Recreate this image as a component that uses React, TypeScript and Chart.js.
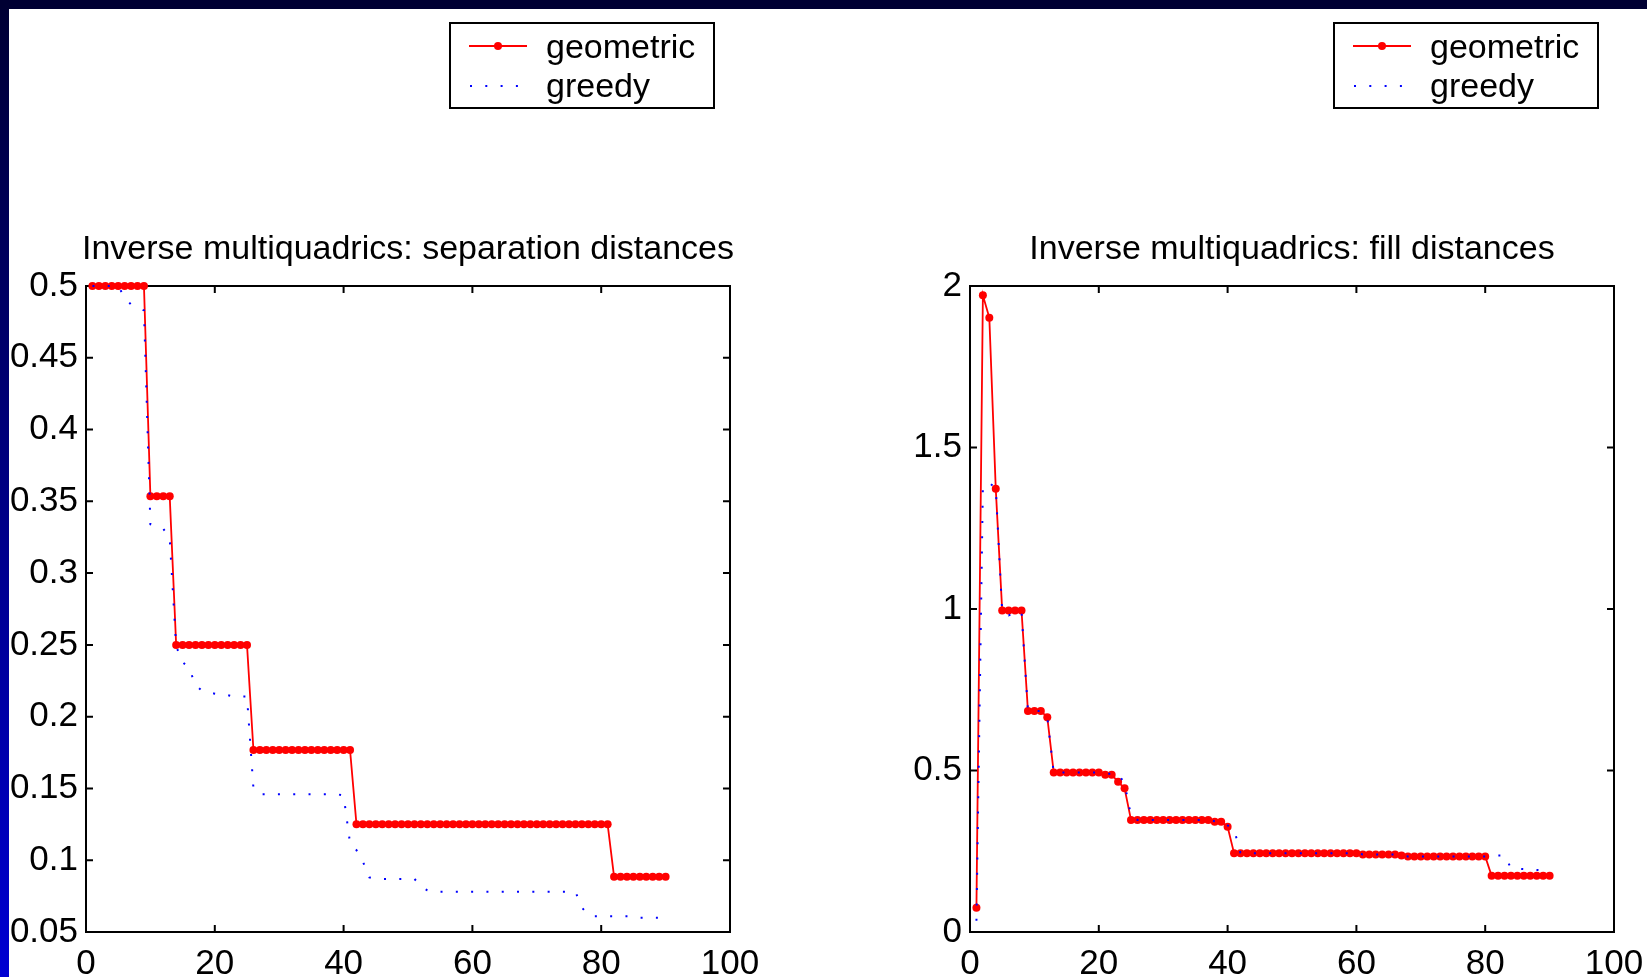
import React, { useEffect, useRef } from "react";
import { Chart, registerables } from "chart.js";

Chart.register(...registerables);

const FONT = '"Liberation Sans", Arial, Helvetica, sans-serif';
const FONT_SIZE = 34;
const TICK_FONT_SIZE = 35;

// Sample index (number of centres chosen) runs 1..90 along the x axis.
const xTickValues = [0, 20, 40, 60, 80, 100];
const xTickLabels = ["0", "20", "40", "60", "80", "100"];

// Separation distances
const sepTickValues = [0.05, 0.1, 0.15, 0.2, 0.25, 0.3, 0.35, 0.4, 0.45, 0.5];
const sepTickLabels = ["0.05", "0.1", "0.15", "0.2", "0.25", "0.3", "0.35", "0.4", "0.45", "0.5"];

const sepGeometric = [
  0.5, 0.5, 0.5, 0.5, 0.5, 0.5, 0.5, 0.5, 0.5, 0.3536,
  0.3536, 0.3536, 0.3536, 0.25, 0.25, 0.25, 0.25, 0.25, 0.25, 0.25,
  0.25, 0.25, 0.25, 0.25, 0.25, 0.1768, 0.1768, 0.1768, 0.1768, 0.1768,
  0.1768, 0.1768, 0.1768, 0.1768, 0.1768, 0.1768, 0.1768, 0.1768, 0.1768, 0.1768,
  0.1768, 0.125, 0.125, 0.125, 0.125, 0.125, 0.125, 0.125, 0.125, 0.125,
  0.125, 0.125, 0.125, 0.125, 0.125, 0.125, 0.125, 0.125, 0.125, 0.125,
  0.125, 0.125, 0.125, 0.125, 0.125, 0.125, 0.125, 0.125, 0.125, 0.125,
  0.125, 0.125, 0.125, 0.125, 0.125, 0.125, 0.125, 0.125, 0.125, 0.125,
  0.125, 0.0884, 0.0884, 0.0884, 0.0884, 0.0884, 0.0884, 0.0884, 0.0884, 0.0884,
];

const sepGreedy = [
  0.5, 0.5, 0.5, 0.5, 0.5, 0.492, 0.487, 0.485, 0.483, 0.334,
  0.333, 0.331, 0.324, 0.249, 0.238, 0.234, 0.222, 0.218, 0.217, 0.216,
  0.215, 0.215, 0.214, 0.214, 0.214, 0.15, 0.146, 0.146, 0.146, 0.146,
  0.146, 0.146, 0.146, 0.146, 0.146, 0.146, 0.146, 0.146, 0.146, 0.145,
  0.112, 0.107, 0.099, 0.088, 0.087, 0.087, 0.087, 0.087, 0.087, 0.087,
  0.087, 0.082, 0.079, 0.078, 0.078, 0.078, 0.078, 0.078, 0.078, 0.078,
  0.078, 0.078, 0.078, 0.078, 0.078, 0.078, 0.078, 0.078, 0.078, 0.078,
  0.078, 0.078, 0.078, 0.078, 0.078, 0.078, 0.067, 0.062, 0.061, 0.061,
  0.061, 0.061, 0.061, 0.061, 0.061, 0.06, 0.06, 0.06, 0.06, 0.06,
];

// Fill distances
const fillTickValues = [0, 0.5, 1, 1.5, 2];
const fillTickLabels = ["0", "0.5", "1", "1.5", "2"];

const fillGeometric = [
  0.075, 1.971, 1.902, 1.372, 0.995, 0.995, 0.995, 0.995, 0.684, 0.684,
  0.684, 0.665, 0.494, 0.494, 0.494, 0.494, 0.494, 0.494, 0.494, 0.494,
  0.487, 0.487, 0.465, 0.445, 0.347, 0.347, 0.347, 0.347, 0.347, 0.347,
  0.347, 0.347, 0.347, 0.347, 0.347, 0.347, 0.347, 0.341, 0.341, 0.326,
  0.244, 0.244, 0.244, 0.244, 0.244, 0.244, 0.244, 0.244, 0.244, 0.244,
  0.244, 0.244, 0.244, 0.244, 0.244, 0.244, 0.244, 0.244, 0.244, 0.244,
  0.24, 0.24, 0.24, 0.24, 0.24, 0.24, 0.237, 0.234, 0.234, 0.234,
  0.234, 0.234, 0.234, 0.234, 0.234, 0.234, 0.234, 0.234, 0.234, 0.234,
  0.174, 0.174, 0.174, 0.174, 0.174, 0.174, 0.174, 0.174, 0.174, 0.174,
];

const fillGreedy = [
  0.035, 1.38, 1.39, 1.375, 0.99, 0.98, 0.99, 0.99, 0.684, 0.684,
  0.684, 0.665, 0.494, 0.494, 0.494, 0.494, 0.494, 0.494, 0.494, 0.494,
  0.49, 0.49, 0.49, 0.46, 0.36, 0.347, 0.347, 0.347, 0.347, 0.347,
  0.347, 0.347, 0.347, 0.347, 0.347, 0.347, 0.347, 0.343, 0.342, 0.33,
  0.318, 0.245, 0.244, 0.244, 0.244, 0.244, 0.244, 0.244, 0.244, 0.244,
  0.244, 0.244, 0.244, 0.244, 0.244, 0.244, 0.244, 0.244, 0.244, 0.244,
  0.24, 0.24, 0.24, 0.24, 0.24, 0.24, 0.237, 0.234, 0.234, 0.234,
  0.234, 0.234, 0.234, 0.234, 0.234, 0.234, 0.234, 0.234, 0.234, 0.234,
  0.237, 0.237, 0.237, 0.198, 0.196, 0.195, 0.193, 0.192, 0.191, 0.19,
];

const seriesLabels = ["geometric", "greedy"];
const RED = "#ff0000";
const BLUE = "#0000ff";
const DOT_DASH = [2, 13.3];
const MARKER_R = 4;

type Panel = {
  title: string;
  geometric: number[];
  greedy: number[];
  yTicks: number[];
  yLabels: string[];
  padLeft: number;
  padRight: number;
};

const toPoints = (ys: number[]) => ys.map((y, i) => ({ x: i + 1, y }));

// Boxed axes with inward ticks, the title above and the boxed legend at the top.
const framePlugin = {
  id: "matFrame",
  beforeDatasetsDraw(chart: any) {
    const { ctx, chartArea } = chart;
    const { left, right, top, bottom } = chartArea;
    const tick = 7;
    ctx.save();
    ctx.strokeStyle = "#000";
    ctx.lineWidth = 2;
    ctx.strokeRect(left, top, right - left, bottom - top);
    ctx.beginPath();
    for (const t of chart.scales.x.ticks) {
      const px = chart.scales.x.getPixelForValue(t.value);
      if (px <= left + 1 || px >= right - 1) continue;
      ctx.moveTo(px, bottom);
      ctx.lineTo(px, bottom - tick);
      ctx.moveTo(px, top);
      ctx.lineTo(px, top + tick);
    }
    for (const t of chart.scales.y.ticks) {
      const py = chart.scales.y.getPixelForValue(t.value);
      if (py <= top + 1 || py >= bottom - 1) continue;
      ctx.moveTo(left, py);
      ctx.lineTo(left + tick, py);
      ctx.moveTo(right, py);
      ctx.lineTo(right - tick, py);
    }
    ctx.stroke();
    ctx.restore();
  },
  afterDraw(chart: any) {
    const { ctx, chartArea } = chart;
    const { left, right } = chartArea;
    const opts = chart.options.plugins.matFrame;
    ctx.save();
    ctx.font = `${FONT_SIZE}px ${FONT}`;
    ctx.fillStyle = "#000";
    ctx.textAlign = "center";
    ctx.textBaseline = "alphabetic";
    ctx.fillText(opts.title, (left + right) / 2, 259);

    // legend
    const bw = 264;
    const bh = 85;
    const bx = right - 16 - bw;
    const by = 23;
    ctx.lineWidth = 2;
    ctx.strokeStyle = "#000";
    ctx.strokeRect(bx, by, bw, bh);

    const row1 = 46;
    const row2 = 86;
    ctx.strokeStyle = RED;
    ctx.lineWidth = 1.8;
    ctx.beginPath();
    ctx.moveTo(bx + 19, row1);
    ctx.lineTo(bx + 77, row1);
    ctx.stroke();
    ctx.fillStyle = RED;
    ctx.beginPath();
    ctx.arc(bx + 48, row1, MARKER_R, 0, Math.PI * 2);
    ctx.fill();

    ctx.strokeStyle = BLUE;
    ctx.lineWidth = 2;
    ctx.setLineDash(DOT_DASH);
    ctx.beginPath();
    ctx.moveTo(bx + 20, row2);
    ctx.lineTo(bx + 78, row2);
    ctx.stroke();
    ctx.setLineDash([]);

    ctx.fillStyle = "#000";
    ctx.textAlign = "left";
    ctx.fillText(seriesLabels[0], bx + 96, row1 + 12);
    ctx.fillText(seriesLabels[1], bx + 96, row2 + 11);
    ctx.restore();
  },
};

function makeConfig(p: Panel): any {
  const tickFont = { family: FONT, size: TICK_FONT_SIZE };
  return {
    type: "line",
    data: {
      datasets: [
        {
          label: seriesLabels[0],
          data: toPoints(p.geometric),
          borderColor: RED,
          backgroundColor: RED,
          borderWidth: 1.8,
          pointRadius: MARKER_R,
          pointHoverRadius: MARKER_R,
          pointBorderWidth: 0,
          pointBackgroundColor: RED,
          tension: 0,
          clip: false,
          order: 2,
        },
        {
          label: seriesLabels[1],
          data: toPoints(p.greedy),
          borderColor: BLUE,
          borderWidth: 2,
          borderDash: DOT_DASH,
          borderCapStyle: "butt",
          pointRadius: 0,
          pointHoverRadius: 0,
          tension: 0,
          clip: false,
          order: 1,
        },
      ],
    },
    options: {
      animation: false,
      responsive: false,
      maintainAspectRatio: false,
      devicePixelRatio: 1,
      events: [],
      layout: {
        padding: { top: 286, bottom: 0, left: p.padLeft, right: p.padRight },
      },
      plugins: {
        legend: { display: false },
        tooltip: { enabled: false },
        title: { display: false },
        matFrame: { title: p.title },
      },
      scales: {
        x: {
          type: "linear",
          min: 0,
          max: 100,
          grid: { display: false, drawTicks: false },
          border: { display: false },
          afterBuildTicks: (s: any) => {
            s.ticks = xTickValues.map((v) => ({ value: v }));
          },
          afterFit: (s: any) => {
            s.height = 45;
          },
          ticks: {
            font: tickFont,
            color: "#000",
            padding: 11,
            maxRotation: 0,
            autoSkip: false,
            callback: (_v: number, i: number) => xTickLabels[i],
          },
        },
        y: {
          type: "linear",
          min: p.yTicks[0],
          max: p.yTicks[p.yTicks.length - 1],
          grid: { display: false, drawTicks: false },
          border: { display: false },
          afterBuildTicks: (s: any) => {
            s.ticks = p.yTicks.map((v) => ({ value: v }));
          },
          afterFit: (s: any) => {
            s.width = 80;
          },
          ticks: {
            font: tickFont,
            color: "#000",
            padding: 8,
            autoSkip: false,
            callback: (_v: number, i: number) => p.yLabels[i],
          },
        },
      },
    },
  };
}

const leftPanel: Panel = {
  title: "Inverse multiquadrics: separation distances",
  geometric: sepGeometric,
  greedy: sepGreedy,
  yTicks: sepTickValues,
  yLabels: sepTickLabels,
  padLeft: 6,
  padRight: 93,
};

// The right canvas runs past the page edge so the last x label has room.
const RIGHT_CANVAS_W = 860;

const rightPanel: Panel = {
  title: "Inverse multiquadrics: fill distances",
  geometric: fillGeometric,
  greedy: fillGreedy,
  yTicks: fillTickValues,
  yLabels: fillTickLabels,
  padLeft: 67,
  padRight: RIGHT_CANVAS_W - 791,
};

export default function App() {
  const leftRef = useRef<HTMLCanvasElement>(null);
  const rightRef = useRef<HTMLCanvasElement>(null);

  useEffect(() => {
    const c1 = new Chart(leftRef.current as HTMLCanvasElement, { ...makeConfig(leftPanel), plugins: [framePlugin] });
    const c2 = new Chart(rightRef.current as HTMLCanvasElement, { ...makeConfig(rightPanel), plugins: [framePlugin] });
    return () => {
      c1.destroy();
      c2.destroy();
    };
  }, []);

  return (
    <div
      style={{
        position: "fixed",
        left: 0,
        top: 0,
        width: 1647,
        height: 977,
        background: "#ffffff",
        overflow: "hidden",
      }}
    >
      <canvas ref={leftRef} width={823} height={977} style={{ position: "absolute", left: 0, top: 0, width: 823, height: 977 }} />
      <canvas
        ref={rightRef}
        width={RIGHT_CANVAS_W}
        height={977}
        style={{ position: "absolute", left: 823, top: 0, width: RIGHT_CANVAS_W, height: 977 }}
      />
      <div style={{ position: "absolute", left: 0, top: 0, width: 9, height: 977, background: "linear-gradient(to bottom, #000033, #0000d2)" }} />
      <div style={{ position: "absolute", left: 0, top: 0, width: 1647, height: 9, background: "#000033" }} />
    </div>
  );
}
